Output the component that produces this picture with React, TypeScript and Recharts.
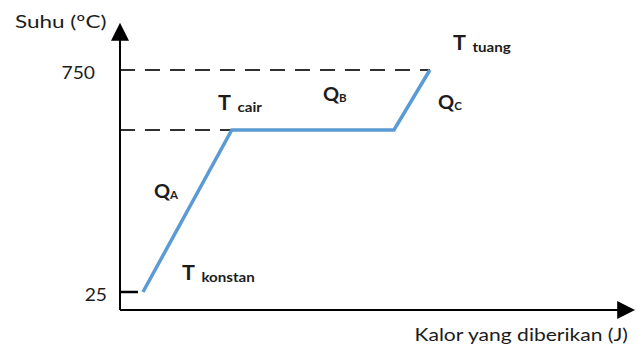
import { LineChart, Line, XAxis, YAxis, ReferenceLine, ReferenceDot, Label } from 'recharts'

// heat given (arbitrary units) vs temperature
const kalor = [4.6, 22.4, 54.9, 62.1]
const suhu = [25, 554, 554, 750]
const yTicks = [25, 750]
const meltTemp = 554
const pourTemp = 750

const noteX = [19.64, 40.68, 66.73, 63.73, 6.81, 12.42]
const noteY = [619, 649, 815, 622, 332, 64]
const noteMain = ['T', 'Q', 'T', 'Q', 'Q', 'T']
const noteSub = ['cair', 'B', 'tuang', 'C', 'A', 'konstan']

const data = kalor.map((k, i) => ({ kalor: k, suhu: suhu[i] }))
const notes = noteX.map((x, i) => ({ x, y: noteY[i], main: noteMain[i], sub: noteSub[i] }))

const font = 'Lato, "Open Sans", sans-serif'
const ink = '#1c1c1c'

// text that is a bit wider than the font draws it, like the source picture
function Wide({ x, y, sx, anchor = 'start', size, weight = 'normal', children }: any) {
  return (
    <g transform={`translate(${x},${y}) scale(${sx},1)`}>
      <text x={0} y={0} textAnchor={anchor} fill={ink} fontSize={size} fontWeight={weight} fontFamily={font}>
        {children}
      </text>
    </g>
  )
}

function YTick({ x, y, payload }: any) {
  const shift = payload.value === 750 ? 25 : 13
  return (
    <Wide x={x - shift} y={y + 9} sx={1.1} anchor="end" size={17.5}>
      {payload.value}
    </Wide>
  )
}

function Note({ cx, cy, note }: any) {
  const isT = note.main === 'T'
  return (
    <Wide x={cx} y={cy} sx={isT ? 1.08 : 1.05} size={isT ? 20 : 19} weight="bold">
      <tspan>{note.main}</tspan>
      <tspan fontSize={isT ? 14 : 11} dx={isT ? 6 : 0} dy={isT ? 1.5 : 1}>{note.sub}</tspan>
    </Wide>
  )
}

export default function App() {
  return (
    <div style={{ position: 'absolute', left: 0, top: 0, width: 643, height: 349, background: '#fff' }}>
      <LineChart width={643} height={349} data={data} margin={{ top: 39, right: 24, bottom: 0, left: 0 }}>
        <defs>
          <marker id="arrowHead" viewBox="0 0 10 10" refX="1" refY="5" markerWidth="9" markerHeight="9" orient="auto-start-reverse" markerUnits="strokeWidth">
            <path d="M0,0 L10,5 L0,10 z" fill="#000" />
          </marker>
        </defs>
        <XAxis
          type="number"
          dataKey="kalor"
          domain={[0, 100]}
          height={39}
          tick={false}
          tickLine={false}
          axisLine={{ stroke: '#000', strokeWidth: 2, markerEnd: 'url(#arrowHead)' }}
        >
          <Label
            content={({ viewBox }: any) => (
              <Wide x={viewBox.x + viewBox.width + 9} y={viewBox.y + 31} sx={1.24} anchor="end" size={17}>
                Kalor yang diberikan (J)
              </Wide>
            )}
          />
        </XAxis>
        <YAxis
          type="number"
          domain={[-33.8, 851.2]}
          width={120}
          ticks={yTicks}
          interval={0}
          tick={<YTick />}
          tickLine={false}
          tickSize={0}
          tickMargin={0}
          axisLine={{ stroke: '#000', strokeWidth: 2, markerStart: 'url(#arrowHead)' }}
        >
          <Label
            content={({ viewBox }: any) => (
              <Wide x={15} y={viewBox.y - 11} sx={1.25} size={18}>
                Suhu (ºC)
              </Wide>
            )}
          />
        </YAxis>
        <ReferenceLine segment={[{ x: 0, y: pourTemp }, { x: kalor[3], y: pourTemp }]} stroke="#303030" strokeWidth={2} strokeDasharray="15 10" />
        <ReferenceLine segment={[{ x: 0, y: meltTemp }, { x: kalor[1], y: meltTemp }]} stroke="#303030" strokeWidth={2} strokeDasharray="15 10" />
        <ReferenceLine segment={[{ x: 0, y: suhu[0] }, { x: 3.6, y: suhu[0] }]} stroke="#000" strokeWidth={2.5} />
        <Line
          type="linear"
          dataKey="suhu"
          stroke="#5b9bd5"
          strokeWidth={3.5}
          dot={false}
          activeDot={false}
          isAnimationActive={false}
        />
        {notes.map((n, i) => (
          <ReferenceDot
            key={i}
            x={n.x}
            y={n.y}
            ifOverflow="visible"
            shape={(p: any) => <Note {...p} note={n} />}
          />
        ))}
      </LineChart>
    </div>
  )
}
